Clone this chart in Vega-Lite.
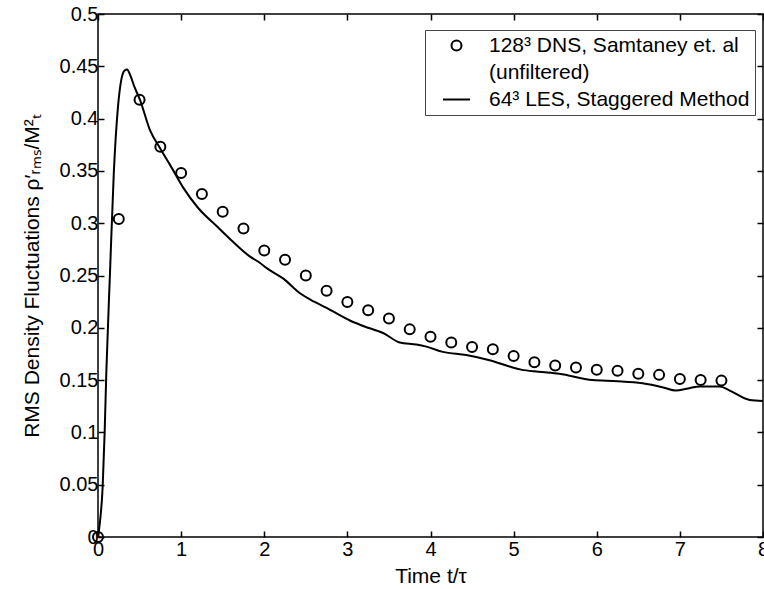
{
  "$schema": "https://vega.github.io/schema/vega-lite/v6.json",
  "width": 665,
  "height": 523,
  "autosize": "none",
  "padding": {"left": 98, "top": 14, "right": 1, "bottom": 52},
  "background": "white",
  "config": {
    "view": {"stroke": "black", "strokeWidth": 1.5},
    "font": "Liberation Sans",
    "axis": {
      "labelFont": "Liberation Sans", "titleFont": "Liberation Sans",
      "labelFontSize": 20, "titleFontSize": 21, "titleFontWeight": "normal",
      "labelColor": "black", "titleColor": "black", "tickColor": "black", "domainColor": "black",
      "tickSize": -6, "tickWidth": 1.5, "domain": false, "grid": false
    }
  },
  "datasets": {
    "les": [
      {"t": 0, "v": 0}, {"t": 0.02, "v": 0.012}, {"t": 0.056, "v": 0.048}, {"t": 0.08, "v": 0.1},
      {"t": 0.1, "v": 0.157}, {"t": 0.144, "v": 0.252}, {"t": 0.19, "v": 0.348}, {"t": 0.24, "v": 0.411},
      {"t": 0.28, "v": 0.437}, {"t": 0.32, "v": 0.446}, {"t": 0.35, "v": 0.447}, {"t": 0.39, "v": 0.441},
      {"t": 0.44, "v": 0.43}, {"t": 0.505, "v": 0.418}, {"t": 0.625, "v": 0.389}, {"t": 0.745, "v": 0.372},
      {"t": 0.865, "v": 0.356}, {"t": 1.025, "v": 0.334}, {"t": 1.2, "v": 0.315}, {"t": 1.43, "v": 0.297},
      {"t": 1.6, "v": 0.284}, {"t": 1.83, "v": 0.268}, {"t": 1.95, "v": 0.262}, {"t": 2.03, "v": 0.257},
      {"t": 2.23, "v": 0.247}, {"t": 2.43, "v": 0.233}, {"t": 2.6, "v": 0.225}, {"t": 2.75, "v": 0.219},
      {"t": 3.03, "v": 0.207}, {"t": 3.25, "v": 0.2}, {"t": 3.43, "v": 0.195}, {"t": 3.63, "v": 0.186},
      {"t": 3.83, "v": 0.184}, {"t": 3.95, "v": 0.182}, {"t": 4.15, "v": 0.177}, {"t": 4.43, "v": 0.174},
      {"t": 4.71, "v": 0.169}, {"t": 4.95, "v": 0.163}, {"t": 5.09, "v": 0.16}, {"t": 5.3, "v": 0.158},
      {"t": 5.55, "v": 0.156}, {"t": 5.95, "v": 0.15}, {"t": 6.25, "v": 0.149}, {"t": 6.55, "v": 0.147},
      {"t": 6.8, "v": 0.143}, {"t": 6.95, "v": 0.14}, {"t": 7.1, "v": 0.142}, {"t": 7.24, "v": 0.144},
      {"t": 7.48, "v": 0.144}, {"t": 7.6, "v": 0.14}, {"t": 7.84, "v": 0.131}, {"t": 8.0, "v": 0.13}
    ],
    "dns": [
      {"t": 0, "v": 0, "series": "128³ DNS, Samtaney  et. al"},
      {"t": 0.25, "v": 0.304, "series": "128³ DNS, Samtaney  et. al"},
      {"t": 0.5, "v": 0.418, "series": "128³ DNS, Samtaney  et. al"},
      {"t": 0.75, "v": 0.373, "series": "128³ DNS, Samtaney  et. al"},
      {"t": 1.0, "v": 0.348, "series": "128³ DNS, Samtaney  et. al"},
      {"t": 1.25, "v": 0.328, "series": "128³ DNS, Samtaney  et. al"},
      {"t": 1.5, "v": 0.311, "series": "128³ DNS, Samtaney  et. al"},
      {"t": 1.75, "v": 0.295, "series": "128³ DNS, Samtaney  et. al"},
      {"t": 2.0, "v": 0.274, "series": "128³ DNS, Samtaney  et. al"},
      {"t": 2.25, "v": 0.265, "series": "128³ DNS, Samtaney  et. al"},
      {"t": 2.5, "v": 0.25, "series": "128³ DNS, Samtaney  et. al"},
      {"t": 2.75, "v": 0.2355, "series": "128³ DNS, Samtaney  et. al"},
      {"t": 3.0, "v": 0.2247, "series": "128³ DNS, Samtaney  et. al"},
      {"t": 3.25, "v": 0.2167, "series": "128³ DNS, Samtaney  et. al"},
      {"t": 3.5, "v": 0.209, "series": "128³ DNS, Samtaney  et. al"},
      {"t": 3.75, "v": 0.1985, "series": "128³ DNS, Samtaney  et. al"},
      {"t": 4.0, "v": 0.1915, "series": "128³ DNS, Samtaney  et. al"},
      {"t": 4.25, "v": 0.186, "series": "128³ DNS, Samtaney  et. al"},
      {"t": 4.5, "v": 0.1816, "series": "128³ DNS, Samtaney  et. al"},
      {"t": 4.75, "v": 0.1794, "series": "128³ DNS, Samtaney  et. al"},
      {"t": 5.0, "v": 0.173, "series": "128³ DNS, Samtaney  et. al"},
      {"t": 5.25, "v": 0.167, "series": "128³ DNS, Samtaney  et. al"},
      {"t": 5.5, "v": 0.164, "series": "128³ DNS, Samtaney  et. al"},
      {"t": 5.75, "v": 0.162, "series": "128³ DNS, Samtaney  et. al"},
      {"t": 6.0, "v": 0.16, "series": "128³ DNS, Samtaney  et. al"},
      {"t": 6.25, "v": 0.159, "series": "128³ DNS, Samtaney  et. al"},
      {"t": 6.5, "v": 0.156, "series": "128³ DNS, Samtaney  et. al"},
      {"t": 6.75, "v": 0.155, "series": "128³ DNS, Samtaney  et. al"},
      {"t": 7.0, "v": 0.151, "series": "128³ DNS, Samtaney  et. al"},
      {"t": 7.25, "v": 0.15, "series": "128³ DNS, Samtaney  et. al"},
      {"t": 7.5, "v": 0.1495, "series": "128³ DNS, Samtaney  et. al"}
    ]
  },
  "layer": [
    {
      "data": {"name": "les"},
      "mark": {"type": "line", "color": "black", "strokeWidth": 2, "interpolate": "monotone", "clip": true},
      "encoding": {
        "x": {"field": "t", "type": "quantitative", "scale": {"domain": [0, 8], "nice": false},
              "axis": {"orient": "bottom", "values": [0, 1, 2, 3, 4, 5, 6, 7, 8], "title": "Time t/τ", "labelPadding": 8, "titlePadding": 6, "labelFlush": false, "labelOverlap": false}},
        "y": {"field": "v", "type": "quantitative", "scale": {"domain": [0, 0.5], "nice": false},
              "axis": {"orient": "left", "values": [0, 0.05, 0.1, 0.15, 0.2, 0.25, 0.3, 0.35, 0.4, 0.45, 0.5], "format": "~g", "title": "RMS Density Fluctuations ρ′ᵣₘₛ/M²ₜ", "labelPadding": 6, "titlePadding": 17, "labelFlush": false, "labelOverlap": false}}
      }
    },
    {
      "data": {"name": "dns"},
      "mark": {"type": "point", "filled": false, "color": "black", "strokeWidth": 2, "size": 100, "opacity": 1},
      "encoding": {
        "x": {"field": "t", "type": "quantitative",
              "axis": {"orient": "top", "values": [0, 1, 2, 3, 4, 5, 6, 7, 8], "labels": false, "title": null}},
        "y": {"field": "v", "type": "quantitative",
              "axis": {"orient": "right", "values": [0, 0.05, 0.1, 0.15, 0.2, 0.25, 0.3, 0.35, 0.4, 0.45, 0.5], "labels": false, "title": null}},
        "shape": {
          "field": "series", "type": "nominal",
          "scale": {"domain": ["128³ DNS, Samtaney  et. al", "(unfiltered)", "64³ LES, Staggered Method"], "range": ["circle", "M0,0L0,0", "M-2.7,0H2.7"]},
          "legend": {
            "title": null, "orient": "none", "legendX": 327, "legendY": 16,
            "fillColor": "white", "strokeColor": "#444", "padding": 5,
            "labelFont": "Liberation Sans", "labelFontSize": 21, "labelColor": "black", "labelLimit": 400,
            "labelExpr": "datum.label == '(unfiltered)' ? '\u00a0(unfiltered)' : datum.label",
            "symbolSize": 100, "symbolStrokeColor": "black", "symbolStrokeWidth": 2, "symbolFillColor": "transparent",
            "symbolOffset": 16, "labelOffset": 22, "rowPadding": 5
          }
        }
      }
    }
  ],
  "resolve": {"axis": {"x": "independent", "y": "independent"}}
}
